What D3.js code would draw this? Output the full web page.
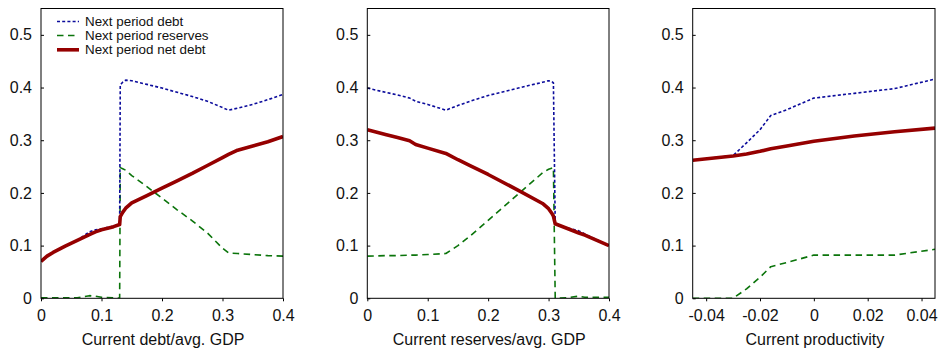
<!DOCTYPE html>
<html>
<head>
<meta charset="utf-8">
<script src="https://cdn.jsdelivr.net/npm/d3@7"></script>
<style>
  html, body { margin: 0; padding: 0; background: #fff; }
  svg { display: block; font-family: "Liberation Sans", Arial, Helvetica, sans-serif; }
</style>
</head>
<body>
<svg id="chart" width="940" height="352"></svg>
<script>
// Policy functions: next-period debt, reserves and net debt (all as share of avg. GDP)

// Panel 1: against current debt
const debtStateX   = [0, 0.01, 0.02, 0.04, 0.06, 0.08, 0.09, 0.10, 0.12, 0.13, 0.131, 0.135, 0.14, 0.15, 0.175, 0.2, 0.225, 0.25, 0.275, 0.3, 0.31, 0.325, 0.35, 0.375, 0.4];
const debtStateDebt = [0.07, 0.08, 0.087, 0.099, 0.11, 0.126, 0.130, 0.132, 0.137, 0.14, 0.405, 0.41, 0.414, 0.413, 0.406, 0.399, 0.391, 0.383, 0.374, 0.362, 0.357, 0.361, 0.368, 0.377, 0.387];
const debtStateRes  = [0.001, 0.001, 0.001, 0.001, 0.001, 0.005, 0.004, 0.002, 0.001, 0.0, 0.248, 0.246, 0.243, 0.233, 0.212, 0.19, 0.168, 0.147, 0.124, 0.095, 0.086, 0.085, 0.083, 0.081, 0.08];
const debtStateNet  = [0.07, 0.08, 0.087, 0.099, 0.11, 0.121, 0.126, 0.13, 0.136, 0.14, 0.155, 0.163, 0.171, 0.181, 0.195, 0.209, 0.223, 0.237, 0.252, 0.267, 0.273, 0.281, 0.289, 0.297, 0.307];

// Panel 2: against current reserves
const resStateX    = [0, 0.03, 0.05, 0.07, 0.08, 0.10, 0.13, 0.15, 0.17, 0.2, 0.25, 0.29, 0.3, 0.305, 0.308, 0.311, 0.312, 0.33, 0.35, 0.36, 0.38, 0.4];
const resStateDebt = [0.399, 0.391, 0.386, 0.380, 0.374, 0.368, 0.357, 0.366, 0.374, 0.385, 0.399, 0.41, 0.413, 0.412, 0.409, 0.142, 0.141, 0.134, 0.128, 0.122, 0.111, 0.1];
const resStateRes  = [0.08, 0.081, 0.081, 0.082, 0.082, 0.083, 0.085, 0.1, 0.118, 0.148, 0.198, 0.238, 0.245, 0.247, 0.248, 0.0, 0.0, 0.001, 0.004, 0.002, 0.002, 0.002];
const resStateNet  = [0.32, 0.311, 0.305, 0.299, 0.292, 0.285, 0.275, 0.263, 0.252, 0.235, 0.205, 0.18, 0.17, 0.162, 0.156, 0.141, 0.141, 0.133, 0.124, 0.12, 0.11, 0.1];

// Panel 3: against current productivity
const prodStateX    = [-0.045, -0.03, -0.025, -0.02, -0.016, -0.01, 0, 0.015, 0.03, 0.045];
const prodStateDebt = [0.262, 0.271, 0.295, 0.32, 0.347, 0.358, 0.38, 0.389, 0.398, 0.416];
const prodStateRes  = [0.0, 0.0, 0.018, 0.04, 0.06, 0.068, 0.082, 0.082, 0.082, 0.093];
const prodStateNet  = [0.262, 0.27, 0.274, 0.279, 0.284, 0.289, 0.298, 0.308, 0.316, 0.323];

const yTicks = [0, 0.1, 0.2, 0.3, 0.4, 0.5];
const debtTicks = [0, 0.1, 0.2, 0.3, 0.4];
const prodTicks = [-0.04, -0.02, 0, 0.02, 0.04];

const seriesNames = ["Next period debt", "Next period reserves", "Next period net debt"];

const styles = [
  { color: "#0c0c9c", width: 1.6, dash: "3,2.2" },
  { color: "#0b740b", width: 1.6, dash: "6.5,4.5" },
  { color: "#950000", width: 3.6, dash: null }
];

const panels = [
  { left: 41,    right: 283,   domain: [0, 0.4], ticks: debtTicks, fmt: d => d === 0 ? "0" : String(d),
    title: "Current debt/avg. GDP", x: debtStateX, series: [debtStateDebt, debtStateRes, debtStateNet], legend: true },
  { left: 367.3, right: 609,   domain: [0, 0.4], ticks: debtTicks, fmt: d => d === 0 ? "0" : String(d),
    title: "Current reserves/avg. GDP", x: resStateX, series: [resStateDebt, resStateRes, resStateNet] },
  { left: 692.7, right: 935,   domain: [-0.045, 0.045], ticks: prodTicks, fmt: d => d === 0 ? "0" : (d < 0 ? "-" + String(-d) : String(d)),
    title: "Current productivity", x: prodStateX, series: [prodStateDebt, prodStateRes, prodStateNet] }
];

const plotTop = 8.5, plotBottom = 298.3;
const svg = d3.select("#chart");

const y = d3.scaleLinear().domain([0, 0.55]).range([plotBottom, plotTop]);

panels.forEach((p, i) => {
  const x = d3.scaleLinear().domain(p.domain).range([p.left, p.right]);
  const g = svg.append("g");

  const clipId = "clip" + i;
  svg.append("clipPath").attr("id", clipId)
    .append("rect").attr("x", p.left).attr("y", plotTop).attr("width", p.right - p.left).attr("height", plotBottom - plotTop);

  // data lines
  const line = d3.line().x((d, k) => x(p.x[k])).y(d => y(d));
  const order = [1, 0, 2];
  order.forEach(s => {
    const st = styles[s];
    g.append("path")
      .datum(p.series[s])
      .attr("clip-path", `url(#${clipId})`)
      .attr("d", line)
      .attr("fill", "none")
      .attr("stroke", st.color)
      .attr("stroke-width", st.width)
      .attr("stroke-dasharray", st.dash)
      .attr("stroke-linejoin", "round");
  });

  // frame
  g.append("rect")
    .attr("x", p.left).attr("y", plotTop)
    .attr("width", p.right - p.left).attr("height", plotBottom - plotTop)
    .attr("fill", "none").attr("stroke", "#000").attr("stroke-width", 1);

  // y axis: ticks point inward
  const yAxis = d3.axisLeft(y).tickValues(yTicks).tickSizeInner(-3).tickSizeOuter(0)
    .tickFormat(d => d === 0 ? "0" : d3.format(".1f")(d)).tickPadding(9);
  const ga = g.append("g").attr("transform", `translate(${p.left},0)`).call(yAxis);
  ga.select(".domain").remove();
  ga.selectAll("text").attr("font-size", 16).attr("fill", "#111").attr("font-family", "Liberation Sans, Arial, sans-serif");

  // x axis: ticks point outward
  const xAxis = d3.axisBottom(x).tickValues(p.ticks).tickSizeInner(3).tickSizeOuter(0)
    .tickFormat(p.fmt).tickPadding(8);
  const gx = g.append("g").attr("transform", `translate(0,${plotBottom})`).call(xAxis);
  gx.select(".domain").remove();
  gx.selectAll("text").attr("font-size", 16).attr("fill", "#111").attr("font-family", "Liberation Sans, Arial, sans-serif");

  g.append("text")
    .attr("x", (p.left + p.right) / 2 + 1)
    .attr("y", 345)
    .attr("text-anchor", "middle")
    .attr("font-size", 16)
    .attr("fill", "#111")
    .text(p.title);

  if (p.legend) {
    const lg = g.append("g");
    const rowsY = [21.5, 35.5, 49.8];
    seriesNames.forEach((name, s) => {
      const st = styles[s];
      lg.append("line")
        .attr("x1", 57).attr("x2", 79)
        .attr("y1", rowsY[s]).attr("y2", rowsY[s])
        .attr("stroke", st.color)
        .attr("stroke-width", st.width)
        .attr("stroke-dasharray", st.dash);
      lg.append("text")
        .attr("x", 85).attr("y", rowsY[s])
        .attr("dy", "0.35em")
        .attr("font-size", 13.4)
        .attr("fill", "#111")
        .text(name);
    });
  }
});
</script>
</body>
</html>
